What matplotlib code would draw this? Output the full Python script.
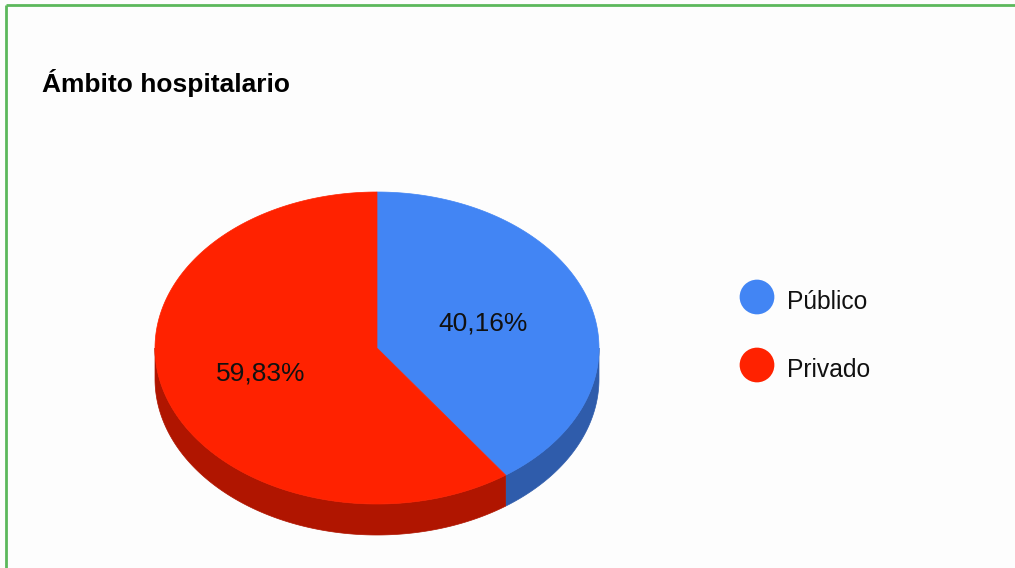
import numpy as np
import matplotlib.pyplot as plt
from matplotlib.patches import Polygon

# Data
categories = ['Público', 'Privado']
shares = [40.16, 59.83]
value_labels = ['40,16%', '59,83%']
top_colors = ['#4285f4', '#ff2200']
side_colors = ['#2f5cab', '#b01500']

plt.rcParams['font.family'] = ['Liberation Sans', 'DejaVu Sans']

# Pie geometry in pixel units
cx, cy = 377, 348
rx, ry = 222, 156
depth = 31
label_r = [0.5, 0.55]
label_dy = -3


def ellipse_pts(a0, a1, dy=0, n=200):
    t = np.radians(np.linspace(a0, a1, n))
    return np.column_stack([cx + rx * np.cos(t), cy - ry * np.sin(t) + dy])


fig = plt.figure(figsize=(10.15, 5.68), dpi=100, facecolor='#fdfdfd')
ax = fig.add_axes([0, 0, 1, 1])
ax.set_xlim(0, 1015)
ax.set_ylim(568, 0)
ax.axis('off')

# wedge angles: start at 12 o'clock, go clockwise
fracs = np.array(shares) / np.sum(shares)
ends = 90 - 360 * np.cumsum(fracs)
starts = np.concatenate([[90], ends[:-1]])

# side band (front half only) first
for s, e, col in zip(starts, ends, side_colors):
    lo, hi = min(s, e), max(s, e)
    # visible front half is angles in [-180, 0] (mod 360)
    for k in (-360, 0):
        a0 = max(lo + k, -180)
        a1 = min(hi + k, 0)
        if a1 > a0:
            top = ellipse_pts(a0, a1)
            bot = ellipse_pts(a1, a0, dy=depth)
            ax.add_patch(Polygon(np.vstack([top, bot]), closed=True,
                                 facecolor=col, edgecolor=col, lw=0.5))

# top face
for s, e, col in zip(starts, ends, top_colors):
    arc = ellipse_pts(s, e)
    pts = np.vstack([[cx, cy], arc])
    ax.add_patch(Polygon(pts, closed=True, facecolor=col, edgecolor=col, lw=0.5))

# value labels
for s, e, lab, r in zip(starts, ends, value_labels, label_r):
    mid = np.radians((s + e) / 2)
    x = cx + r * rx * np.cos(mid)
    y = cy - r * ry * np.sin(mid) + label_dy
    ax.text(x, y, lab, ha='center', va='center_baseline', fontsize=19, color='#111111')

# title
ax.text(42, 92, 'Ámbito hospitalario', fontsize=19, fontweight='bold',
        ha='left', va='baseline', color='black')

# legend
leg_x, leg_y0, leg_dy = 757, 297, 68
for i, (cat, col) in enumerate(zip(categories, top_colors)):
    y = leg_y0 + i * leg_dy
    ax.scatter([leg_x], [y], s=25 ** 2, color=col, edgecolors='none')
    ax.text(leg_x + 30, y + 12, cat, fontsize=17.7, ha='left', va='baseline', color='#111111')

# green frame (top and left edges visible)
ax.plot([6, 1015], [5, 5], color='#5cb85c', lw=2, solid_capstyle='butt')
ax.plot([6, 6], [5, 568], color='#5cb85c', lw=2, solid_capstyle='butt')

fig.savefig('out.png', dpi=100, facecolor=fig.get_facecolor())
